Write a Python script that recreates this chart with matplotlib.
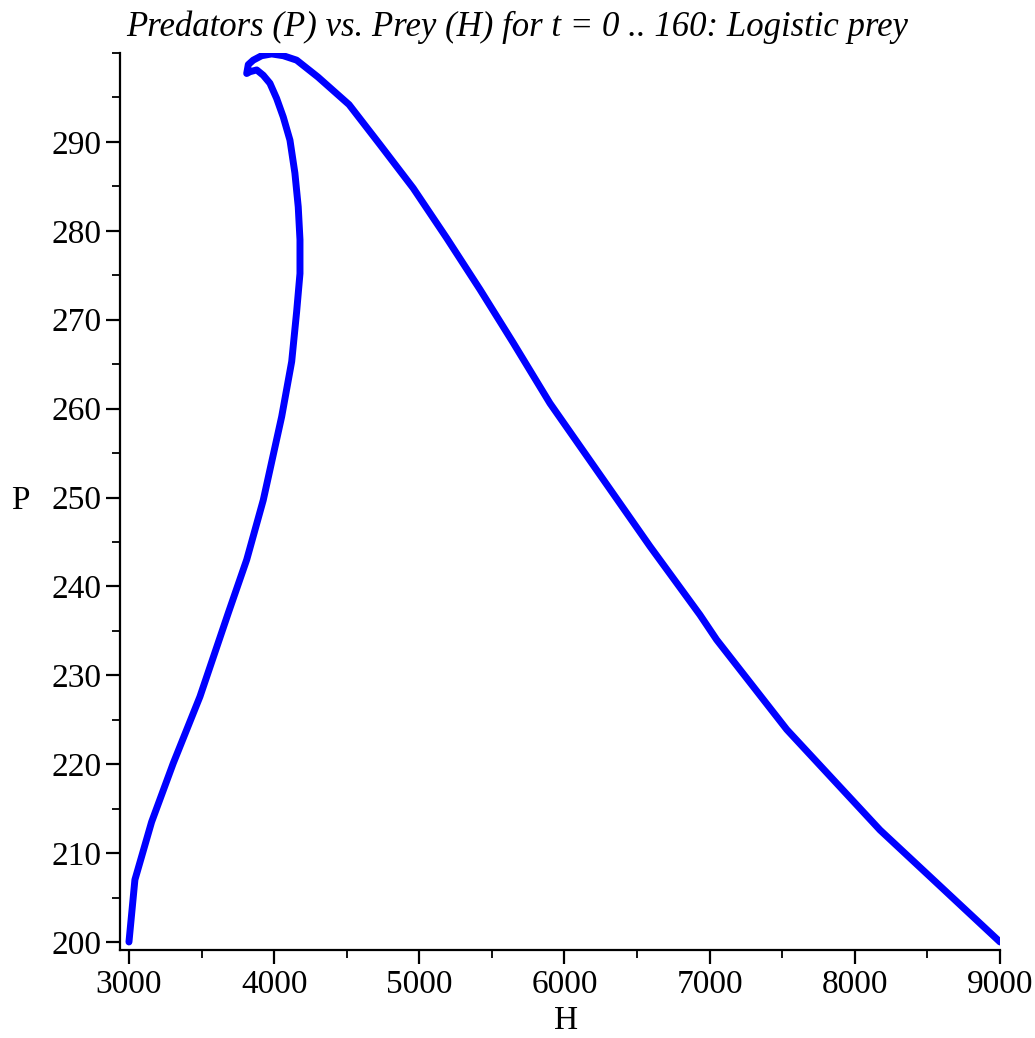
import matplotlib
matplotlib.use("Agg")
import matplotlib.pyplot as plt
from matplotlib.ticker import MultipleLocator

# trajectory: inner branch from (3000,200) up to the hook,
# then the outer branch down to (9000,200)
H = [3000, 3041, 3156, 3305, 3489, 3684, 3811, 3925, 4052, 4121, 4155, 4178,
     4178, 4166, 4143, 4109, 4063, 4017, 3971, 3925, 3880, 3834, 3811,
     3822, 3856, 3914, 3983, 4063, 4155, 4302, 4516, 4729, 4958, 5188, 5418,
     5647, 5900, 6589, 6933, 7048, 7531, 8173, 9000]
P = [200.0, 207.0, 213.5, 220.1, 227.6, 237.0, 243.0, 249.7, 259.1, 265.3, 270.9, 275.2,
     279.0, 282.7, 286.5, 290.2, 292.8, 294.9, 296.6, 297.5, 298.1, 297.9, 297.7,
     298.7, 299.2, 299.7, 299.9, 299.7, 299.2, 297.3, 294.2, 289.7, 284.8, 279.2, 273.4,
     267.4, 260.6, 244.5, 236.8, 234.0, 223.9, 212.6, 200.0]

xticks = [3000, 4000, 5000, 6000, 7000, 8000, 9000]
yticks = [200, 210, 220, 230, 240, 250, 260, 270, 280, 290]

plt.rcParams['font.family'] = ['Liberation Serif', 'DejaVu Serif']

fig = plt.figure(figsize=(10.35, 10.38), dpi=100)
ax = fig.add_axes([0.1159, 0.0848, 0.8503, 0.8641])

ax.plot(H, P, color=(0, 0, 1), lw=5, solid_capstyle='round', solid_joinstyle='round')

ax.set_xlim(2938, 9000)
ax.set_ylim(199.1, 300)
ax.set_xticks(xticks)
ax.set_yticks(yticks)
ax.xaxis.set_minor_locator(MultipleLocator(500))
ax.yaxis.set_minor_locator(MultipleLocator(5))

for s in ['top', 'right']:
    ax.spines[s].set_visible(False)
for s in ['left', 'bottom']:
    ax.spines[s].set_linewidth(1.6)

ax.tick_params(which='major', length=10, width=1.6, labelsize=24)
ax.tick_params(axis='y', which='major', pad=3)
ax.tick_params(axis='x', which='major', pad=4)
ax.tick_params(which='minor', length=6, width=1.3)

fig.text(0.5, 0.974, "Predators (P) vs. Prey (H) for t = 0 .. 160: Logistic prey",
         ha='center', va='center', fontsize=25, style='italic')
fig.text(0.547, 0.017, "H", ha='center', va='center', fontsize=24)
fig.text(0.02, 0.518, "P", ha='center', va='center', fontsize=24)

fig.savefig("out.png", dpi=100)
